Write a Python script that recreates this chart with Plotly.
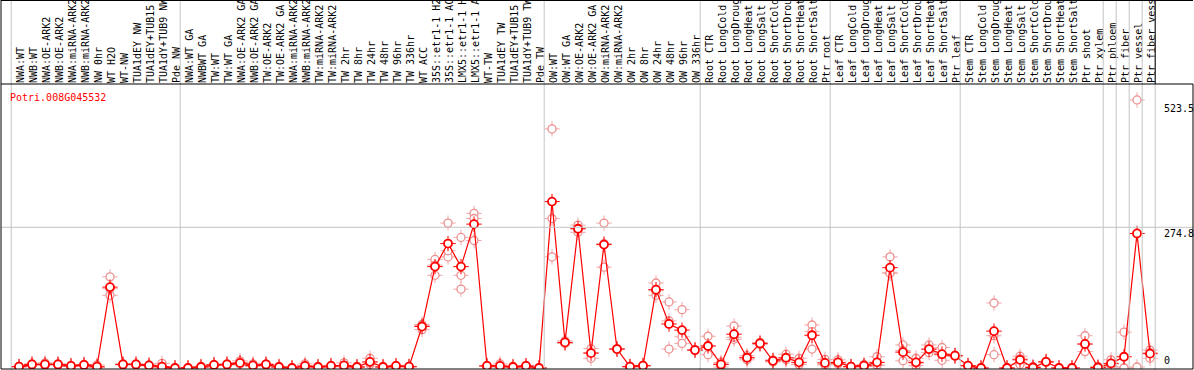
import plotly.graph_objects as go

categories = [
    "NWA:WT", "NWB:WT", "NWA:OE-ARK2", "NWB:OE-ARK2", "NWA:miRNA-ARK2", "NWB:miRNA-ARK2",
    "NW 0hr", "WT H2O", "WT-NW", "TUA1dEY NW", "TUA1dEY+TUB15 NW", "TUA1dY+TUB9 NW", "Pde NW",
    "NWA:WT GA", "NWBWT GA", "TW:WT", "TW:WT GA", "NWA:OE-ARK2 GA", "NWB:OE-ARK2 GA",
    "TW:OE-ARK2", "TW:OE-ARK2 GA", "NWA:miRNA-ARK2 GA", "NWB:miRNA-ARK2 GA", "TW:miRNA-ARK2",
    "TW:miRNA-ARK2 GA", "TW 2hr", "TW 8hr", "TW 24hr", "TW 48hr", "TW 96hr", "TW 336hr",
    "WT ACC", "35S::etr1-1 H2O", "35S::etr1-1 ACC", "LMX5::etr1-1 H2O", "LMX5::etr1-1 ACC",
    "WT-TW", "TUA1dEY TW", "TUA1dEY+TUB15 TW", "TUA1dY+TUB9 TW", "Pde TW",
    "OW:WT", "OW:WT GA", "OW:OE-ARK2", "OW:OE-ARK2 GA", "OW:miRNA-ARK2", "OW:miRNA-ARK2 GA",
    "OW 2hr", "OW 8hr", "OW 24hr", "OW 48hr", "OW 96hr", "OW 336hr",
    "Root CTR", "Root LongCold", "Root LongDrought", "Root LongHeat", "Root LongSalt",
    "Root ShortCold", "Root ShortDrought", "Root ShortHeat", "Root ShortSalt", "Ptr root",
    "Leaf CTR", "Leaf LongCold", "Leaf LongDrought", "Leaf LongHeat", "Leaf LongSalt",
    "Leaf ShortCold", "Leaf ShortDrought", "Leaf ShortHeat", "Leaf ShortSalt", "Ptr leaf",
    "Stem CTR", "Stem LongCold", "Stem LongDrought", "Stem LongHeat", "Stem LongSalt",
    "Stem ShortCold", "Stem ShortDrought", "Stem ShortHeat", "Stem ShortSalt", "Ptr shoot",
    "Ptr xylem", "Ptr phloem", "Ptr fiber", "Ptr vessel", "Ptr fiber vessel",
]

mean_values = [
    2.6, 7, 7, 7, 4, 6, 2.6, 158, 7, 7, 5, 2.6, 0,
    0, 2, 6, 7, 10, 5, 7, 2, 0, 4, 2, 4, 5, 2, 12, 2, 4, 2.6, 81, 198, 243, 198, 281,
    4, 4, 2, 4, 0,
    325, 50, 272, 29, 241, 37, 2.6, 4.5, 153, 86, 74, 35,
    43, 7, 66, 20, 48, 14, 20, 11, 64, 10,
    11, 2.6, 4.5, 11, 196, 31, 11, 37, 27, 24,
    4.5, 0, 72, 0, 16, 1, 12, 0, 0, 47, 1,
    9, 22, 262.75, 28,
]

replicates = [
    [2, 3, 3], [6, 8, 7], [5, 10, 6], [6, 8, 7], [3, 5, 4], [5, 7, 6], [1, 6, 1],
    [178, 142, 155], [6, 8, 7], [6, 8, 7], [4, 6, 5], [0, 9, 1], [0, 0, 0],
    [0, 0, 0], [1, 3, 2], [5, 7, 6], [6, 8, 7], [8, 14, 8], [3, 8, 4], [6, 8, 7],
    [1, 3, 2], [0, 0, 0], [2, 8, 2], [1, 3, 2], [3, 5, 4], [2, 10, 3], [1, 3, 2],
    [19, 7, 10], [1, 3, 2], [3, 5, 4], [2, 3, 3], [75, 85, 83], [212, 181, 201],
    [283, 217, 229], [255, 181, 154], [302, 292, 249], [3, 5, 4], [2, 8, 2],
    [1, 3, 2], [3, 5, 4], [0, 0, 0],
    [467, 292, 217], [53, 48, 49], [279, 272, 265], [38, 19, 30], [283, 197, 243],
    [37, 36, 38], [2, 3, 3], [4, 5, 5], [166, 142, 151], [129, 37, 92],
    [114, 61, 48], [34, 36, 35],
    [62, 43, 26], [8, 2, 11], [82, 56, 60], [24, 16, 20], [50, 46, 48],
    [16, 12, 14], [27, 17, 16], [19, 7, 7], [84, 37, 71], [17, 6, 7],
    [16, 8, 9], [2, 3, 3], [7, 3, 4], [22, 5, 6], [217, 186, 185],
    [45, 14, 34], [19, 4.5, 9.5], [45, 30, 36], [40, 15, 26], [25, 23, 24],
    [4, 5, 5], [0, 0, 0], [127, 26, 63], [0, 0, 0], [23, 7, 18], [0, 3, 0],
    [11, 13, 12], [0, 0, 0], [0, 0, 0], [63, 32, 46], [0, 3, 0],
    [16, 3, 8], [70, 0, 0], [523.5, 2], [35, 19, 30],
]

group_sizes = [13, 28, 12, 10, 10, 11, 1, 1, 1, 1]
gene_id = "Potri.008G045532"
axis_marks = [523.5, 274.8, 0]

MONO = "DejaVu Sans Mono"
n = len(categories)
xs = list(range(n))

rep_x, rep_y = [], []
for i, reps in enumerate(replicates):
    for v in reps:
        rep_x.append(i)
        rep_y.append(v)

fig = go.Figure()
fig.add_trace(go.Scatter(x=rep_x, y=rep_y, mode="markers",
                         marker=dict(symbol="cross-thin", size=11,
                                     line=dict(color="#f0a8a8", width=1)),
                         hoverinfo="skip"))
fig.add_trace(go.Scatter(x=rep_x, y=rep_y, mode="markers",
                         marker=dict(symbol="circle", size=8, color="white",
                                     line=dict(color="#ec9090", width=1.3)),
                         hoverinfo="skip"))
fig.add_trace(go.Scatter(x=xs, y=mean_values, mode="lines",
                         line=dict(color="#ff0000", width=1.2), hoverinfo="skip"))
fig.add_trace(go.Scatter(x=xs, y=mean_values, mode="markers",
                         marker=dict(symbol="cross-thin", size=11,
                                     line=dict(color="#ff0000", width=1)),
                         hoverinfo="skip"))
fig.add_trace(go.Scatter(x=xs, y=mean_values, mode="markers",
                         marker=dict(symbol="circle", size=8, color="white",
                                     line=dict(color="#ff0000", width=1.8)),
                         hoverinfo="skip"))

W, H = 1194, 370
L, R, T, B = 1, 1, 84, 1
ph = H - T - B
top_paper = 1 + (T - 0.5) / ph
bot_paper = -(B + 0.5) / ph

shapes = []
bounds = [-0.5]
acc = 0
for g in group_sizes:
    acc += g
    bounds.append(acc - 0.5)
for b in bounds:
    shapes.append(dict(type="line", xref="x", yref="paper", x0=b - 0.1, x1=b - 0.1,
                       y0=bot_paper, y1=top_paper + 0.01,
                       line=dict(color="#c4c4c4", width=1)))
shapes.append(dict(type="line", xref="paper", yref="y", x0=0, x1=1,
                   y0=axis_marks[1], y1=axis_marks[1],
                   line=dict(color="#c4c4c4", width=1)))
shapes.append(dict(type="rect", xref="paper", yref="paper", x0=0, x1=1, y0=0, y1=1,
                   line=dict(color="black", width=1)))
last_b = bounds[-1] - 0.1
shapes.append(dict(type="line", xref="paper", yref="paper", x0=0, x1=0, y0=1, y1=top_paper + 0.01,
                   line=dict(color="black", width=1)))
shapes.append(dict(type="line", xref="paper", yref="paper", x0=0, x1=1, y0=top_paper, y1=top_paper,
                   line=dict(color="black", width=1)))
shapes.append(dict(type="line", xref="x", yref="paper", x0=last_b, x1=last_b, y0=1, y1=top_paper + 0.01,
                   line=dict(color="black", width=1)))

annotations = [dict(text=gene_id, xref="paper", yref="paper", x=(8 - L) / (W - L - R),
                    y=1 - (97 - T) / ph, xanchor="left", yanchor="middle", showarrow=False,
                    font=dict(family=MONO, size=10, color="#ff0000"))]
lab_x = (1162 - L) / (W - L - R)
annotations.append(dict(text=f"{axis_marks[0]}", xref="paper", yref="y", x=lab_x, y=axis_marks[0],
                        xanchor="left", yanchor="top", yshift=-1, showarrow=False,
                        font=dict(family=MONO, size=10, color="black")))
annotations.append(dict(text=f"{axis_marks[1]}", xref="paper", yref="y", x=lab_x, y=axis_marks[1],
                        xanchor="left", yanchor="top", yshift=1, showarrow=False,
                        font=dict(family=MONO, size=10, color="black")))
annotations.append(dict(text=f"{axis_marks[2]}", xref="paper", yref="y", x=lab_x, y=axis_marks[2],
                        xanchor="left", yanchor="bottom", yshift=0, showarrow=False,
                        font=dict(family=MONO, size=10, color="black")))

x0 = -(19 - L) / 13.0
x1 = x0 + (W - L - R) / 13.0
ppu = 0.512
y_max = (368 - T) / ppu
y_min = -(H - B - 368) / ppu

fig.update_layout(
    width=W, height=H,
    margin=dict(l=L, r=R, t=T, b=B, pad=0),
    paper_bgcolor="white", plot_bgcolor="white",
    showlegend=False,
    shapes=shapes, annotations=annotations,
    xaxis=dict(range=[x0, x1], tickmode="array", tickvals=xs, ticktext=categories,
               side="top", tickangle=-90, ticks="", showgrid=False, zeroline=False,
               showline=False, automargin=False, ticklabelshift=2, ticklabelstandoff=0,
               tickfont=dict(family=MONO, size=10, color="black")),
    yaxis=dict(range=[y_min, y_max], showticklabels=False, showgrid=False,
               zeroline=False, showline=False, ticks="", automargin=False),
)

fig.write_html("out.html", config={"displayModeBar": False},
               post_script="document.body.style.margin='0';document.body.style.padding='0';")
